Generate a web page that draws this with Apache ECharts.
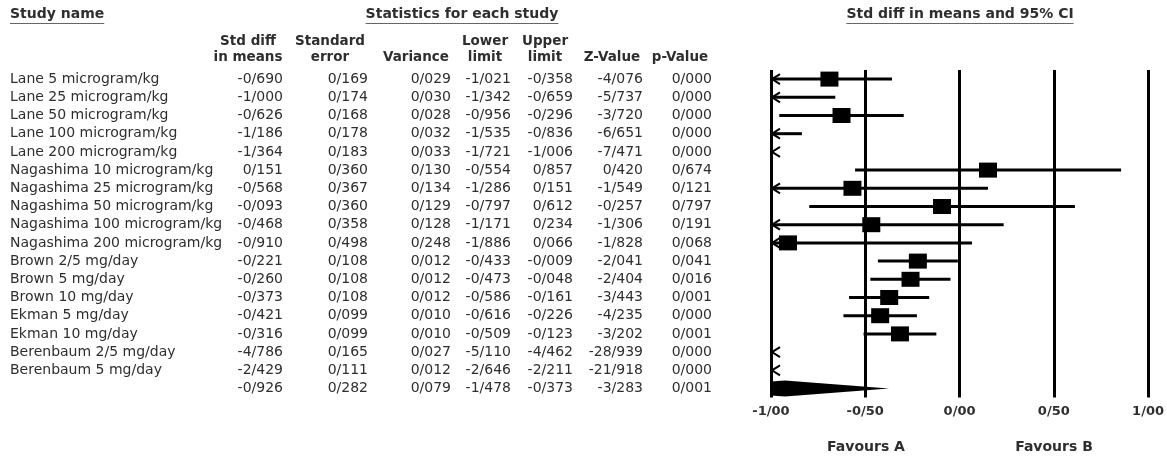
<!DOCTYPE html>
<html>
<head>
<meta charset="utf-8">
<script src="https://cdn.jsdelivr.net/npm/echarts@6/dist/echarts.min.js"></script>
<style>
html,body{margin:0;padding:0;background:#fff;}
#chart{width:1167px;height:457px;}
</style>
</head>
<body>
<div id="chart"></div>
<script>
// ---- data ----
const studies = [
  'Lane 5 microgram/kg','Lane 25 microgram/kg','Lane 50 microgram/kg','Lane 100 microgram/kg',
  'Lane 200 microgram/kg','Nagashima 10 microgram/kg','Nagashima 25 microgram/kg',
  'Nagashima 50 microgram/kg','Nagashima 100 microgram/kg','Nagashima 200 microgram/kg',
  'Brown 2/5 mg/day','Brown 5 mg/day','Brown 10 mg/day','Ekman 5 mg/day','Ekman 10 mg/day',
  'Berenbaum 2/5 mg/day','Berenbaum 5 mg/day',''
];
const stdDiff  = [-0.690,-1.000,-0.626,-1.186,-1.364,0.151,-0.568,-0.093,-0.468,-0.910,-0.221,-0.260,-0.373,-0.421,-0.316,-4.786,-2.429,-0.926];
const stdError = [0.169,0.174,0.168,0.178,0.183,0.360,0.367,0.360,0.358,0.498,0.108,0.108,0.108,0.099,0.099,0.165,0.111,0.282];
const variance = [0.029,0.030,0.028,0.032,0.033,0.130,0.134,0.129,0.128,0.248,0.012,0.012,0.012,0.010,0.010,0.027,0.012,0.079];
const lowerLimit = [-1.021,-1.342,-0.956,-1.535,-1.721,-0.554,-1.286,-0.797,-1.171,-1.886,-0.433,-0.473,-0.586,-0.616,-0.509,-5.110,-2.646,-1.478];
const upperLimit = [-0.358,-0.659,-0.296,-0.836,-1.006,0.857,0.151,0.612,0.234,0.066,-0.009,-0.048,-0.161,-0.226,-0.123,-4.462,-2.211,-0.373];
const zValue = [-4.076,-5.737,-3.720,-6.651,-7.471,0.420,-1.549,-0.257,-1.306,-1.828,-2.041,-2.404,-3.443,-4.235,-3.202,-28.939,-21.918,-3.283];
const pValue = [0.000,0.000,0.000,0.000,0.000,0.674,0.121,0.797,0.191,0.068,0.041,0.016,0.001,0.000,0.001,0.000,0.000,0.001];
const tickValues = [-1,-0.5,0,0.5,1];
const tickLabels = ['-1/00','-0/50','0/00','0/50','1/00'];

// ---- layout / style ----
const FONT = 'DejaVu Sans';
const TEXT = '#2e2e2e';
const nRows = studies.length;
const rowIds = studies.map((_, i) => String(i));
const GRID_TOP = 70, GRID_H = 327.6;
const fmt = v => v.toFixed(3).replace('.', '/');
const columns = [
  {vals: stdDiff, x: 283}, {vals: stdError, x: 368}, {vals: variance, x: 451},
  {vals: lowerLimit, x: 511}, {vals: upperLimit, x: 573}, {vals: zValue, x: 643}, {vals: pValue, x: 712}
];

function clipPoly(pts, xmin, xmax) {
  function clip(poly, inside, inter) {
    const out = [];
    for (let k = 0; k < poly.length; k++) {
      const cur = poly[k], prev = poly[(k + poly.length - 1) % poly.length];
      const ci = inside(cur), pi = inside(prev);
      if (ci) { if (!pi) out.push(inter(prev, cur)); out.push(cur); }
      else if (pi) out.push(inter(prev, cur));
    }
    return out;
  }
  const interAt = X => (p, q) => [X, p[1] + (q[1] - p[1]) * (X - p[0]) / (q[0] - p[0])];
  let r = clip(pts, p => p[0] >= xmin, interAt(xmin));
  r = clip(r, p => p[0] <= xmax, interAt(xmax));
  return r;
}

function renderForest(params, api) {
  const i = api.value(1);
  const m = api.value(0), lo = api.value(2), hi = api.value(3);
  const px = v => api.coord([v, i])[0];
  const y = api.coord([0, i])[1];
  const xMin = px(-1), xMax = px(1);
  const children = [];
  const black = '#000';
  if (i === nRows - 1) {
    const h = 8;
    const poly = clipPoly([[px(lo), y], [px(m), y - h], [px(hi), y], [px(m), y + h]], xMin, xMax);
    children.push({type: 'polygon', shape: {points: poly}, style: {fill: black}});
    return {type: 'group', children};
  }
  const a = Math.max(lo, -1), b = Math.min(hi, 1);
  if (b > a) {
    children.push({type: 'line', shape: {x1: px(a), y1: y, x2: px(b), y2: y}, style: {stroke: black, lineWidth: 3}});
  }
  if (lo < -1) {
    children.push({type: 'polyline', shape: {points: [[xMin + 9, y - 5], [xMin + 1, y], [xMin + 9, y + 5]]}, style: {stroke: black, lineWidth: 2, fill: null}});
  }
  if (hi > 1) {
    children.push({type: 'polyline', shape: {points: [[xMax - 9, y - 5], [xMax - 1, y], [xMax - 9, y + 5]]}, style: {stroke: black, lineWidth: 2, fill: null}});
  }
  if (m > -1 && m < 1) {
    const w = 18, hh = 15;
    children.push({type: 'rect', shape: {x: px(m) - w / 2, y: y - hh / 2, width: w, height: hh}, style: {fill: black}});
  }
  return {type: 'group', children};
}

function renderTable(params, api) {
  const i = api.value(1);
  const children = [];
  const y = api.coord([0, i])[1];
  children.push({type: 'text', x: 10, y: y, style: {text: studies[i], fill: TEXT, font: '14px "' + FONT + '"', textAlign: 'left', textVerticalAlign: 'middle'}});
  columns.forEach(c => {
    const p = api.coord([c.x, i]);
    children.push({type: 'text', x: p[0], y: y, style: {text: fmt(c.vals[i]), fill: TEXT, font: '14px "' + FONT + '"', textAlign: 'right', textVerticalAlign: 'middle'}});
  });
  return {type: 'group', children};
}

// text measure for underlines
const mctx = document.createElement('canvas').getContext('2d');
function tw(text, font) { mctx.font = font; return mctx.measureText(text).width; }
const HFONT = 'bold 14px "' + FONT + '"';
const CFONT = 'bold 13.5px "' + FONT + '"';
const graphics = [];
function header(text, cx, align) {
  const w = tw(text, HFONT);
  const left = align === 'left' ? cx : cx - w / 2;
  graphics.push({type: 'text', left: left, top: 7, style: {text: text, fill: TEXT, font: HFONT}});
  graphics.push({type: 'line', shape: {x1: left, y1: 23.5, x2: left + w, y2: 23.5}, style: {stroke: '#666', lineWidth: 1}});
}
header('Study name', 10, 'left');
header('Statistics for each study', 462, 'center');
header('Std diff in means and 95% CI', 960, 'center');
function colHead(lines, cx) {
  lines.forEach((t, k) => {
    if (!t) return;
    graphics.push({type: 'text', x: cx, y: k === 0 ? 41 : 57, style: {text: t, fill: TEXT, font: CFONT, textAlign: 'center', textVerticalAlign: 'middle'}});
  });
}
colHead(['Std diff', 'in means'], 248);
colHead(['Standard', 'error'], 330);
colHead(['', 'Variance'], 416);
colHead(['Lower', 'limit'], 485);
colHead(['Upper', 'limit'], 545);
colHead(['', 'Z-Value'], 612);
colHead(['', 'p-Value'], 680);
graphics.push({type: 'text', x: 866, y: 447, style: {text: 'Favours A', fill: TEXT, font: HFONT, textAlign: 'center', textVerticalAlign: 'middle'}});
graphics.push({type: 'text', x: 1054, y: 447, style: {text: 'Favours B', fill: TEXT, font: HFONT, textAlign: 'center', textVerticalAlign: 'middle'}});

const chart = echarts.init(document.getElementById('chart'), null, {renderer: 'canvas'});
chart.setOption({
  animation: false,
  backgroundColor: '#fff',
  textStyle: {fontFamily: FONT},
  grid: [
    {left: 771, right: 17, top: GRID_TOP, height: GRID_H},
    {left: 0, width: 760, top: GRID_TOP, height: GRID_H}
  ],
  xAxis: [
    {gridIndex: 0, type: 'value', min: -1, max: 1, interval: 0.5,
     axisLine: {show: false}, axisTick: {show: false},
     splitLine: {show: true, showMinLine: true, showMaxLine: true, lineStyle: {color: '#000', width: 3}},
     axisLabel: {formatter: v => tickLabels[tickValues.indexOf(v)], fontWeight: 'bold', fontSize: 13, color: TEXT, margin: 8, fontFamily: FONT}},
    {gridIndex: 1, type: 'value', min: 0, max: 760, show: false}
  ],
  yAxis: [
    {gridIndex: 0, type: 'category', data: rowIds, inverse: true, show: false},
    {gridIndex: 1, type: 'category', data: rowIds, inverse: true, show: false}
  ],
  series: [
    {type: 'custom', xAxisIndex: 0, yAxisIndex: 0, renderItem: renderForest,
     encode: {x: [0, 2, 3], y: 1},
     data: studies.map((_, i) => [stdDiff[i], i, lowerLimit[i], upperLimit[i]])},
    {type: 'custom', xAxisIndex: 1, yAxisIndex: 1, renderItem: renderTable,
     encode: {x: 0, y: 1},
     data: studies.map((_, i) => [0, i])}
  ],
  graphic: graphics
});
</script>
</body>
</html>
